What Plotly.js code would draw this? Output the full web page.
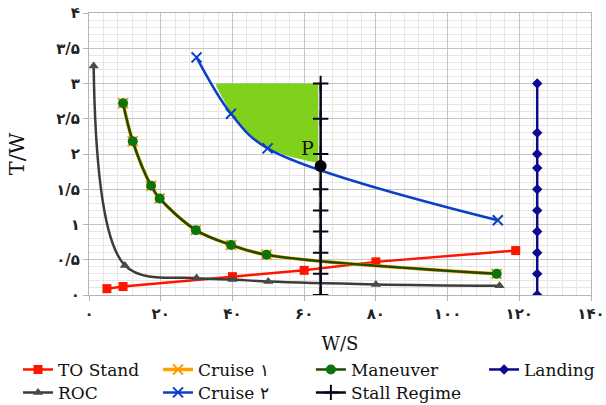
<!DOCTYPE html>
<html>
<head>
<meta charset="utf-8">
<script src="https://cdn.plot.ly/plotly-3.0.1.min.js"></script>
<style>html,body{margin:0;padding:0;background:#fff;}#chart{width:606px;height:405px;}</style>
</head>
<body>
<div id="chart"></div>
<script>
// ---- data ----
const toStandX = [5, 9.5, 40, 60, 80, 119];
const toStandY = [0.09, 0.12, 0.26, 0.35, 0.47, 0.63];

const rocX = [1.3, 10, 30, 40, 50, 80, 114.5];
const rocY = [3.25, 0.42, 0.24, 0.22, 0.19, 0.15, 0.13];

const maneuverX = [9.5, 12.2, 17.3, 19.7, 29.8, 39.6, 49.5, 113.7];
const maneuverY = [2.72, 2.18, 1.55, 1.37, 0.92, 0.71, 0.57, 0.30];

const cruise1X = [9.5, 12.2, 17.3, 19.7, 29.8, 39.6, 49.5, 113.7];
const cruise1Y = [2.72, 2.18, 1.55, 1.37, 0.92, 0.71, 0.57, 0.30];

const cruise2X = [30, 39.6, 49.8, 114];
const cruise2Y = [3.37, 2.57, 2.08, 1.06];

const stallX = [64.6, 64.6, 64.6, 64.6, 64.6, 64.6, 64.6, 64.6, 64.6];
const stallY = [0, 0.3, 0.6, 0.9, 1.2, 1.5, 2, 2.5, 3];

const landingX = [125, 125, 125, 125, 125, 125, 125, 125, 125, 125];
const landingY = [0, 0.3, 0.6, 0.9, 1.2, 1.5, 1.8, 2, 2.3, 3];

// feasible design region (green)
const feasibleX = [35.5, 63.9, 63.9, 56.1, 49.8, 44.5, 39.6, 37.5, 35.5];
const feasibleY = [3.0, 3.0, 1.87, 1.96, 2.08, 2.29, 2.57, 2.76, 2.96];

// design point
const pointX = [64.6];
const pointY = [1.83];
const pointLabel = 'P';

const xTickVals = [0, 20, 40, 60, 80, 100, 120, 140];
const xTickText = ['۰', '۲۰', '۴۰', '۶۰', '۸۰', '۱۰۰', '۱۲۰', '۱۴۰'];
const yTickVals = [0, 0.5, 1, 1.5, 2, 2.5, 3, 3.5, 4];
const yTickText = ['۰', '۰/۵', '۱', '۱/۵', '۲', '۲/۵', '۳', '۳/۵', '۴'];

const names = ['TO Stand', 'ROC', 'Cruise ۱', 'Cruise ۲', 'Maneuver', 'Stall Regime', 'Landing'];

// ---- chart ----
const serif = 'DejaVu Serif';

const traces = [
  {x: feasibleX, y: feasibleY, mode: 'lines', fill: 'toself', fillcolor: '#7fd11b',
   line: {width: 0, color: '#7fd11b'}, showlegend: false, hoverinfo: 'skip'},
  {x: toStandX, y: toStandY, name: names[0], mode: 'lines+markers', legend: 'legend',
   line: {color: '#ff1400', width: 2.5},
   marker: {symbol: 'square', size: 9, color: '#ff1400'}},
  {x: rocX, y: rocY, name: names[1], mode: 'lines+markers', legend: 'legend5',
   line: {color: '#3c3c3c', width: 2.5, shape: 'spline'},
   marker: {symbol: 'triangle-up', size: 9, color: '#4a4a4a'}},
  {x: cruise1X, y: cruise1Y, name: names[2], mode: 'lines+markers', legend: 'legend2',
   line: {color: '#ffa000', width: 3.5, shape: 'spline'},
   marker: {symbol: 'x-thin', size: 10, line: {color: '#ff9900', width: 2}}},
  {x: cruise2X, y: cruise2Y, name: names[3], mode: 'lines+markers', legend: 'legend6',
   line: {color: '#0a3fc8', width: 2.5, shape: 'spline'},
   marker: {symbol: 'x-thin', size: 10, line: {color: '#0a3fc8', width: 2}}},
  {x: maneuverX, y: maneuverY, name: names[4], mode: 'lines+markers', legend: 'legend3',
   line: {color: '#1d4a05', width: 2.5, shape: 'spline'},
   marker: {symbol: 'circle', size: 10, color: '#0d730d'}},
  {x: stallX, y: stallY, name: names[5], mode: 'lines+markers', legend: 'legend7',
   line: {color: '#050515', width: 2.5},
   marker: {symbol: 'cross-thin', size: 11, line: {color: '#050515', width: 2}}},
  {x: landingX, y: landingY, name: names[6], mode: 'lines+markers', legend: 'legend4',
   line: {color: '#0a0a8c', width: 2.5},
   marker: {symbol: 'diamond', size: 8, color: '#0a0a8c'}},
  {x: pointX, y: pointY, mode: 'markers', showlegend: false,
   marker: {symbol: 'circle', size: 12, color: '#000'}}
];

function leg(x, y) {
  return {x: x, y: y, xanchor: 'left', yanchor: 'middle', orientation: 'v',
          bgcolor: 'rgba(0,0,0,0)', borderwidth: 0,
          font: {family: serif, size: 17, color: '#111'}};
}
const col = [-0.1414, 0.1375, 0.442, 0.787];
const row = [-0.2657, -0.347];

const axisCommon = {
  showline: true, mirror: true, linecolor: '#b5b5b5', linewidth: 1,
  ticks: 'outside', ticklen: 5, tickcolor: '#b5b5b5',
  showgrid: true, gridcolor: '#c4c4c4', gridwidth: 1, zeroline: false,
  tickfont: {family: 'DejaVu Sans', size: 15, color: '#222', weight: 'bold'},
  tickmode: 'array'
};

const layout = {
  width: 606, height: 405,
  font: {family: serif},
  margin: {l: 89, r: 15, t: 13, b: 110, autoexpand: false},
  paper_bgcolor: '#fff', plot_bgcolor: '#fff',
  xaxis: Object.assign({}, axisCommon, {
    range: [0, 140], tickvals: xTickVals, ticktext: xTickText,
    minor: {tickmode: 'linear', tick0: 0, dtick: 4, showgrid: true, gridcolor: '#e6e6e6', ticks: ''},
    title: {text: 'W/S', font: {family: serif, size: 18, color: '#111'}, standoff: 15}
  }),
  yaxis: Object.assign({}, axisCommon, {
    range: [0, 4], tickvals: yTickVals, ticktext: yTickText,
    minor: {tickmode: 'linear', tick0: 0, dtick: 0.1, showgrid: true, gridcolor: '#e6e6e6', ticks: ''},
    title: {text: 'T/W', font: {family: serif, size: 21, color: '#111'}, standoff: 25}
  }),
  legend: leg(col[0], row[0]),
  legend2: leg(col[1], row[0]),
  legend3: leg(col[2], row[0]),
  legend4: leg(col[3], row[0]),
  legend5: leg(col[0], row[1]),
  legend6: leg(col[1], row[1]),
  legend7: leg(col[2], row[1]),
  annotations: [{x: pointX[0], y: pointY[0], xref: 'x', yref: 'y', text: pointLabel,
    showarrow: false, xshift: -13, yshift: 18,
    font: {family: serif, size: 19, color: '#111'}}]
};

Plotly.newPlot('chart', traces, layout, {displayModeBar: false, staticPlot: true});
</script>
</body>
</html>
